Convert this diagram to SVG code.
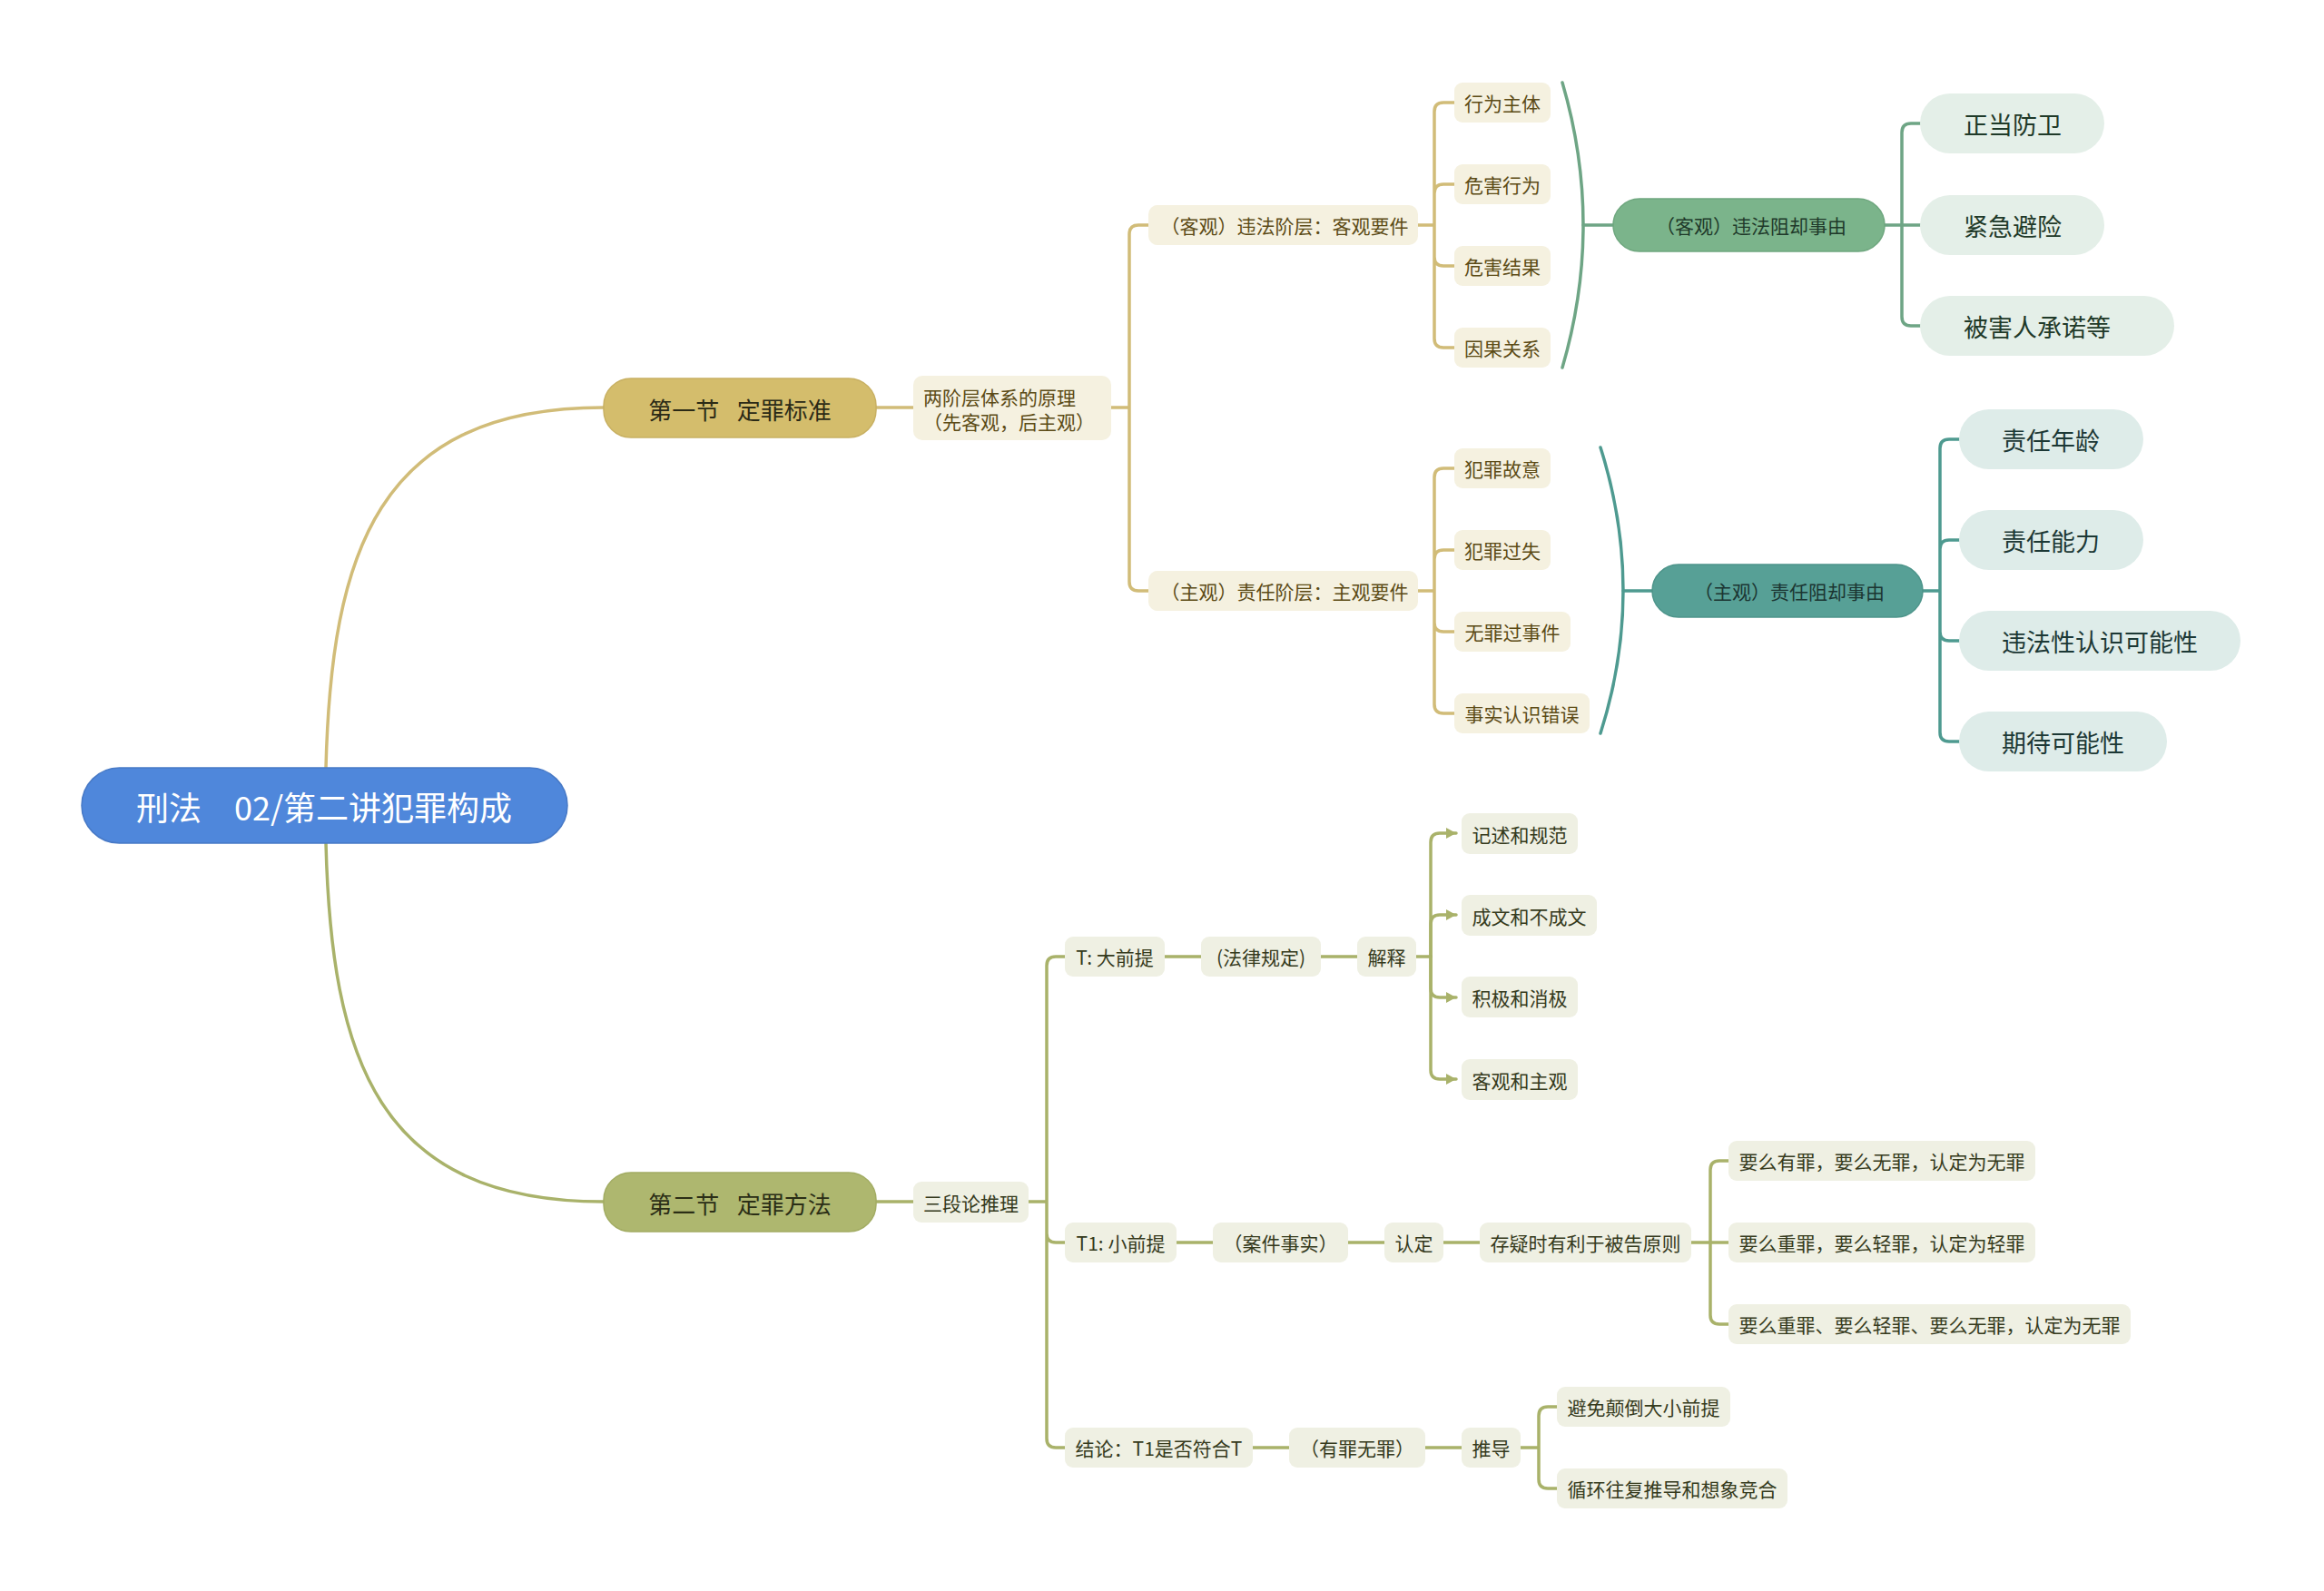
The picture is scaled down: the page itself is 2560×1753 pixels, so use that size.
<svg xmlns="http://www.w3.org/2000/svg" width="2560" height="1753" viewBox="0 0 2560 1753">
<style>
text{font-family:"Noto Sans CJK SC","Noto Sans",sans-serif;dominant-baseline:central}
.c{fill:none;stroke-width:3.5;stroke-linecap:round}
.gold{stroke:#d1bc78}
.olive{stroke:#a9b26a}
.grn{stroke:#6ea585}
.teal{stroke:#4e9a90}
.tl{fill:#f5f1e0}
.tt{font-size:21px;fill:#5c4b16}
.bl{fill:#eff0e3}
.bt{font-size:21px;fill:#353a1c}
.gl{fill:#e4efe8}
.gt{font-size:27px;fill:#1f3a29}
.ql{fill:#deece9}
.qt{font-size:27px;fill:#1c3835}
.m{text-anchor:middle}
</style>
<defs>
<marker id="arr" markerUnits="userSpaceOnUse" markerWidth="11" markerHeight="12" refX="11" refY="6" orient="auto">
<path d="M0,0 L11,6 L0,12 z" fill="#a9b26a"/>
</marker>
</defs>
<rect width="2560" height="1753" fill="#ffffff"/>
<g id="connectors">
<path class="c gold" stroke-width="3" d="M359 846 C365 610 415 449 665 449"/>
<path class="c olive" stroke-width="3" d="M359 929 C365 1165 415 1324 665 1324"/>
<path class="c gold" d="M965 449 H1006"/>
<path class="c gold" d="M1224 449 H1244 M1244 449 V258 Q1244 248 1254 248 H1265 M1244 449 V641 Q1244 651 1254 651 H1265"/>
<path class="c gold" d="M1562 248 H1580 M1580 248 V123 Q1580 113 1590 113 H1602 M1580 248 V213 Q1580 203 1590 203 H1602 M1580 248 V283 Q1580 293 1590 293 H1602 M1580 248 V373 Q1580 383 1590 383 H1602"/>
<path class="c gold" d="M1562 651 H1580 M1580 651 V526 Q1580 516 1590 516 H1602 M1580 651 V616 Q1580 606 1590 606 H1602 M1580 651 V686 Q1580 696 1590 696 H1602 M1580 651 V776 Q1580 786 1590 786 H1602"/>
<path class="c grn" stroke-width="2.5" d="M1721 91 Q1767 248 1721 405"/>
<path class="c grn" d="M1744 248 H1777"/>
<path class="c grn" d="M2076 248 H2095 M2095 248 V146 Q2095 136 2105 136 H2115 M2095 248 H2115 M2095 248 V349 Q2095 359 2105 359 H2115"/>
<path class="c teal" stroke-width="2.5" d="M1763 493 Q1813 651 1763 808"/>
<path class="c teal" d="M1788 651 H1820"/>
<path class="c teal" d="M2118 651 H2137 M2137 651 V494 Q2137 484 2147 484 H2158 M2137 651 V605 Q2137 595 2147 595 H2158 M2137 651 V696 Q2137 706 2147 706 H2158 M2137 651 V807 Q2137 817 2147 817 H2158"/>
<path class="c olive" d="M965 1324 H1006"/>
<path class="c olive" d="M1133 1324 H1153 M1153 1324 V1064 Q1153 1054 1163 1054 H1173 M1153 1324 V1359 Q1153 1369 1163 1369 H1173 M1153 1324 V1585 Q1153 1595 1163 1595 H1173"/>
<path class="c olive" d="M1283 1054 H1323 M1455 1054 H1495 M1560 1054 H1576"/>
<path class="c olive" marker-end="url(#arr)" d="M1576 1054 V928 Q1576 918 1586 918 H1604"/>
<path class="c olive" marker-end="url(#arr)" d="M1576 1054 V1018 Q1576 1008 1586 1008 H1604"/>
<path class="c olive" marker-end="url(#arr)" d="M1576 1054 V1089 Q1576 1099 1586 1099 H1604"/>
<path class="c olive" marker-end="url(#arr)" d="M1576 1054 V1179 Q1576 1189 1586 1189 H1604"/>
<path class="c olive" d="M1296 1369 H1336 M1485 1369 H1525 M1590 1369 H1630 M1863 1369 H1884 M1884 1369 V1289 Q1884 1279 1894 1279 H1904 M1884 1369 H1904 M1884 1369 V1449 Q1884 1459 1894 1459 H1904"/>
<path class="c olive" d="M1380 1595 H1420 M1570 1595 H1610 M1675 1595 H1695 M1695 1595 V1560 Q1695 1550 1705 1550 H1715 M1695 1595 V1630 Q1695 1640 1705 1640 H1715"/>
</g>
<g id="root"><rect x="90" y="846" width="535" height="83" rx="41.5" fill="#4f87db" stroke="#4779c6" stroke-width="1.5"/><text class="m" x="357" y="888" font-size="36" fill="#ffffff">刑法　02/第二讲犯罪构成</text></g>
<g id="s1"><rect x="665" y="417" width="300" height="65" rx="30" fill="#d4bd6c" stroke="#c8b062" stroke-width="1.5"/><text class="m" x="815" y="450" font-size="26" fill="#2b2a16" xml:space="preserve">第一节  <tspan dx="8">定罪标准</tspan></text></g>
<g id="s2"><rect x="665" y="1292" width="300" height="65" rx="30" fill="#aeb76f" stroke="#a2ac63" stroke-width="1.5"/><text class="m" x="815" y="1325" font-size="26" fill="#2b2e16" xml:space="preserve">第二节  <tspan dx="8">定罪方法</tspan></text></g>
<g id="n-two"><rect class="tl" x="1006" y="414" width="218" height="71" rx="10"/><text class="tt" x="1017" y="437">两阶层体系的原理</text><text class="tt" x="1017" y="464">（先客观，后主观）</text></g>
<g id="n-obj"><rect class="tl" x="1265" y="226" width="297" height="44" rx="10"/><text class="tt m" x="1415" y="248">（客观）违法阶层：客观要件</text></g>
<g id="n-sub"><rect class="tl" x="1265" y="629" width="297" height="44" rx="10"/><text class="tt m" x="1415" y="651">（主观）责任阶层：主观要件</text></g>
<g id="n-o1"><rect class="tl" x="1602" y="91" width="106" height="44" rx="9"/><text class="tt m" x="1655" y="113">行为主体</text></g>
<g id="n-o2"><rect class="tl" x="1602" y="181" width="106" height="44" rx="9"/><text class="tt m" x="1655" y="203">危害行为</text></g>
<g id="n-o3"><rect class="tl" x="1602" y="271" width="106" height="44" rx="9"/><text class="tt m" x="1655" y="293">危害结果</text></g>
<g id="n-o4"><rect class="tl" x="1602" y="361" width="106" height="44" rx="9"/><text class="tt m" x="1655" y="383">因果关系</text></g>
<g id="n-s1"><rect class="tl" x="1602" y="494" width="106" height="44" rx="9"/><text class="tt m" x="1655" y="516">犯罪故意</text></g>
<g id="n-s2"><rect class="tl" x="1602" y="584" width="106" height="44" rx="9"/><text class="tt m" x="1655" y="606">犯罪过失</text></g>
<g id="n-s3"><rect class="tl" x="1602" y="674" width="128" height="44" rx="9"/><text class="tt m" x="1666" y="696">无罪过事件</text></g>
<g id="n-s4"><rect class="tl" x="1602" y="764" width="149" height="44" rx="9"/><text class="tt m" x="1676.5" y="786">事实认识错误</text></g>
<g id="n-ojust"><rect x="1777" y="219" width="299" height="58" rx="29" fill="#7bb48b" stroke="#6fa77f" stroke-width="1.5"/><text class="m" x="1929" y="248" font-size="21" fill="#20392a">（客观）违法阻却事由</text></g>
<g id="n-sjust"><rect x="1820" y="622" width="298" height="58" rx="29" fill="#57a096" stroke="#4d948a" stroke-width="1.5"/><text class="m" x="1971" y="651" font-size="21" fill="#1b3532">（主观）责任阻却事由</text></g>
<g id="n-g1"><rect class="gl" x="2115" y="103" width="203" height="66" rx="33"/><text class="gt" x="2163" y="136">正当防卫</text></g>
<g id="n-g2"><rect class="gl" x="2115" y="215" width="203" height="66" rx="33"/><text class="gt" x="2163" y="248">紧急避险</text></g>
<g id="n-g3"><rect class="gl" x="2115" y="326" width="280" height="66" rx="33"/><text class="gt" x="2163" y="359">被害人承诺等</text></g>
<g id="n-q1"><rect class="ql" x="2158" y="451" width="203" height="66" rx="33"/><text class="qt" x="2205" y="484">责任年龄</text></g>
<g id="n-q2"><rect class="ql" x="2158" y="562" width="203" height="66" rx="33"/><text class="qt" x="2205" y="595">责任能力</text></g>
<g id="n-q3"><rect class="ql" x="2158" y="673" width="310" height="66" rx="33"/><text class="qt" x="2205" y="706">违法性认识可能性</text></g>
<g id="n-q4"><rect class="ql" x="2158" y="784" width="229" height="66" rx="33"/><text class="qt" x="2205" y="817">期待可能性</text></g>
<g id="n-syl"><rect class="bl" x="1006" y="1302" width="127" height="45" rx="9"/><text class="bt m" x="1069.5" y="1324.5">三段论推理</text></g>
<g id="n-T"><rect class="bl" x="1173" y="1032" width="110" height="44" rx="9"/><text class="bt m" x="1228" y="1054">T: 大前提</text></g>
<g id="n-law"><rect class="bl" x="1323" y="1032" width="132" height="44" rx="9"/><text class="bt m" x="1389" y="1054">(法律规定)</text></g>
<g id="n-expl"><rect class="bl" x="1495" y="1032" width="65" height="44" rx="9"/><text class="bt m" x="1527.5" y="1054">解释</text></g>
<g id="n-e1"><rect class="bl" x="1610" y="896" width="128" height="45" rx="9"/><text class="bt m" x="1674" y="918.5">记述和规范</text></g>
<g id="n-e2"><rect class="bl" x="1610" y="986" width="149" height="45" rx="9"/><text class="bt m" x="1684.5" y="1008.5">成文和不成文</text></g>
<g id="n-e3"><rect class="bl" x="1610" y="1076" width="128" height="45" rx="9"/><text class="bt m" x="1674" y="1098.5">积极和消极</text></g>
<g id="n-e4"><rect class="bl" x="1610" y="1167" width="128" height="45" rx="9"/><text class="bt m" x="1674" y="1189.5">客观和主观</text></g>
<g id="n-T1"><rect class="bl" x="1173" y="1347" width="123" height="44" rx="9"/><text class="bt m" x="1234.5" y="1369">T1: 小前提</text></g>
<g id="n-case"><rect class="bl" x="1336" y="1347" width="149" height="44" rx="9"/><text class="bt m" x="1410.5" y="1369">（案件事实）</text></g>
<g id="n-find"><rect class="bl" x="1525" y="1347" width="65" height="44" rx="9"/><text class="bt m" x="1557.5" y="1369">认定</text></g>
<g id="n-doubt"><rect class="bl" x="1630" y="1347" width="233" height="44" rx="9"/><text class="bt m" x="1746.5" y="1369">存疑时有利于被告原则</text></g>
<g id="n-d1"><rect class="bl" x="1904" y="1257" width="338" height="44" rx="9"/><text class="bt m" x="2073" y="1279">要么有罪，要么无罪，认定为无罪</text></g>
<g id="n-d2"><rect class="bl" x="1904" y="1347" width="338" height="44" rx="9"/><text class="bt m" x="2073" y="1369">要么重罪，要么轻罪，认定为轻罪</text></g>
<g id="n-d3"><rect class="bl" x="1904" y="1437" width="443" height="44" rx="9"/><text class="bt m" x="2125.5" y="1459">要么重罪、要么轻罪、要么无罪，认定为无罪</text></g>
<g id="n-concl"><rect class="bl" x="1173" y="1573" width="207" height="44" rx="9"/><text class="bt m" x="1276.5" y="1595">结论：T1是否符合T</text></g>
<g id="n-guilt"><rect class="bl" x="1420" y="1573" width="150" height="44" rx="9"/><text class="bt m" x="1495" y="1595">（有罪无罪）</text></g>
<g id="n-deriv"><rect class="bl" x="1610" y="1573" width="65" height="44" rx="9"/><text class="bt m" x="1642.5" y="1595">推导</text></g>
<g id="n-r1"><rect class="bl" x="1715" y="1528" width="191" height="44" rx="9"/><text class="bt m" x="1810.5" y="1550">避免颠倒大小前提</text></g>
<g id="n-r2"><rect class="bl" x="1715" y="1618" width="254" height="44" rx="9"/><text class="bt m" x="1842" y="1640">循环往复推导和想象竞合</text></g>
</svg>
